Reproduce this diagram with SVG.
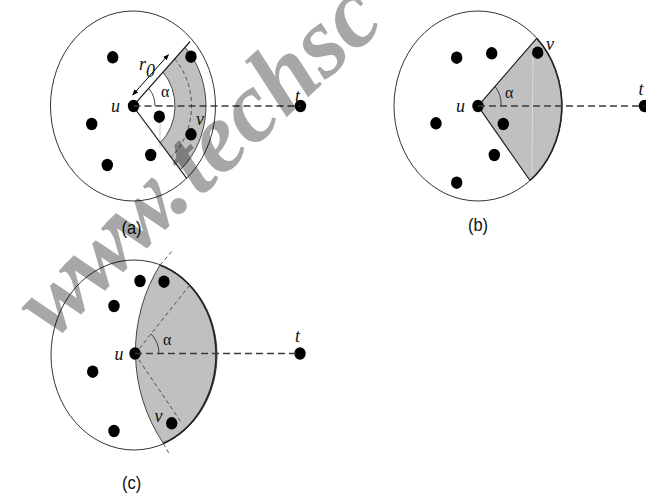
<svg xmlns="http://www.w3.org/2000/svg" width="646" height="500" viewBox="0 0 646 500">
<defs>
<style>
.bg{fill:#ffffff}
.ring{fill:none;stroke:#333;stroke-width:1}
.shade{fill:#c0c0c0;stroke:none}
.edge{fill:none;stroke:#222;stroke-width:1.2}
.rim{fill:none;stroke:#222;stroke-width:1.6}
.thin{fill:none;stroke:#333;stroke-width:0.9}
.dash{fill:none;stroke:#3a3a3a;stroke-width:1.6;stroke-dasharray:7 4}
.fdash{fill:none;stroke:#444;stroke-width:0.9;stroke-dasharray:4 3}
.dot{fill:#000}
.lbl{font-family:"Liberation Serif","Times New Roman",serif;font-style:italic;fill:#111;font-size:18px}
.greek{font-family:"Liberation Serif","Times New Roman",serif;fill:#111;font-size:16px}
.cap{font-family:"Liberation Sans",Arial,sans-serif;fill:#111;font-size:16.5px;text-anchor:middle}
.wm{font-family:"Liberation Serif","Times New Roman",serif;font-weight:bold;font-style:italic;font-size:100px;fill:#000;opacity:0.34}
</style>
<marker id="ah" viewBox="0 0 10 10" refX="9" refY="5" markerWidth="6" markerHeight="6" orient="auto-start-reverse" markerUnits="userSpaceOnUse">
<path d="M0,1 L10,5 L0,9 Z" fill="#000"/>
</marker>
</defs>
<rect class="bg" x="0" y="0" width="646" height="500"/>

<!-- Panel (a) -->
<g id="panel-a">
<ellipse class="ring" cx="133" cy="106" rx="82.5" ry="95"/>
<path class="shade" d="M163,72.2 L185.1,47.2 A73,84 0 0 1 180.4,169.8 L160.3,142.7 A42,48.3 0 0 0 163,72.2 Z"/>
<path class="thin" d="M185.1,47.2 A73,84 0 0 1 180.4,169.8"/>
<path class="thin" d="M163,72.2 A42,48.3 0 0 1 160.3,142.7"/>
<path class="fdash" d="M174.7,58.9 A58.5,67.3 0 0 1 171,157.2"/>
<line x1="160" y1="120" x2="160" y2="148" stroke="#bbb" stroke-width="0.8"/>
<path class="edge" d="M190.1,41.5 L133,106 L186.9,178.6"/>
<path class="thin" d="M148.7,88.3 A22,25.3 0 0 1 155,106"/>
<line x1="132.7" y1="95" x2="168.5" y2="54.6" stroke="#000" stroke-width="1" marker-start="url(#ah)" marker-end="url(#ah)"/>
<text class="lbl" x="139" y="70" font-size="18">r</text>
<text class="lbl" x="146" y="76.5" font-size="13">0</text>
<text class="greek" x="161" y="96.5">α</text>
<g id="a-u"><ellipse class="dot" cx="133.5" cy="106" rx="5.7" ry="6.2"/><text class="lbl" x="111" y="111.5">u</text></g>
<g id="a-t"><ellipse class="dot" cx="300.5" cy="106" rx="5.7" ry="6.2"/><text class="lbl" x="295" y="101.5">t</text></g>
<g id="a-v"><ellipse class="dot" cx="191" cy="134.3" rx="5.7" ry="6.2"/><text class="lbl" x="196" y="125">v</text></g>
<g id="a-n1"><ellipse class="dot" cx="112.7" cy="57.3" rx="5.7" ry="6.2"/></g>
<g id="a-n2"><ellipse class="dot" cx="191" cy="56.7" rx="5.7" ry="6.2"/></g>
<g id="a-n3"><ellipse class="dot" cx="91.7" cy="124" rx="5.7" ry="6.2"/></g>
<g id="a-n4"><ellipse class="dot" cx="159.3" cy="116.7" rx="5.7" ry="6.2"/></g>
<g id="a-n5"><ellipse class="dot" cx="150.7" cy="155" rx="5.7" ry="6.2"/></g>
<g id="a-n6"><ellipse class="dot" cx="107.3" cy="165" rx="5.7" ry="6.2"/></g>
<text class="cap" transform="translate(131.5,234) scale(1,1.14)">(a)</text>
</g>

<!-- Panel (b) -->
<g id="panel-b">
<ellipse class="ring" cx="478" cy="106" rx="84" ry="95"/>
<path class="shade" d="M478,106 L536.7,38.3 A84,95 0 0 1 530,180.5 Z"/>
<line x1="533" y1="44" x2="532" y2="176" stroke="#fff" stroke-width="0.8" opacity="0.5"/>
<path class="rim" d="M536.7,38.3 A84,95 0 0 1 530,180.5"/>
<path class="edge" d="M536.7,38.3 L478,106 L530,180.5"/>
<path class="thin" d="M495,86.5 A23,26 0 0 1 501,106"/>
<text class="greek" x="505" y="97.5">α</text>
<g id="b-u"><ellipse class="dot" cx="478" cy="106" rx="5.7" ry="6.2"/><text class="lbl" x="456" y="111.5">u</text></g>
<g id="b-t"><ellipse class="dot" cx="644.5" cy="106" rx="5.7" ry="6.2"/><text class="lbl" x="638.5" y="95">t</text></g>
<g id="b-v"><ellipse class="dot" cx="537.7" cy="52.7" rx="5.7" ry="6.2"/><text class="lbl" x="546" y="50">v</text></g>
<g id="b-n1"><ellipse class="dot" cx="456.7" cy="57.7" rx="5.7" ry="6.2"/></g>
<g id="b-n2"><ellipse class="dot" cx="491.7" cy="53.3" rx="5.7" ry="6.2"/></g>
<g id="b-n3"><ellipse class="dot" cx="436" cy="123.3" rx="5.7" ry="6.2"/></g>
<g id="b-n4"><ellipse class="dot" cx="503.3" cy="124" rx="5.7" ry="6.2"/></g>
<g id="b-n5"><ellipse class="dot" cx="494.3" cy="155" rx="5.7" ry="6.2"/></g>
<g id="b-n6"><ellipse class="dot" cx="456.7" cy="182.7" rx="5.7" ry="6.2"/></g>
<text class="cap" transform="translate(478,231) scale(1,1.14)">(b)</text>
</g>

<!-- Panel (c) -->
<g id="panel-c">
<ellipse class="ring" cx="134" cy="355" rx="83" ry="95"/>
<path class="shade" d="M160,265 A165,165 0 0 0 163.3,443.3 A83,95 0 0 0 160,265 Z"/>
<path class="thin" d="M160,265 A165,165 0 0 0 163.3,443.3"/>
<path class="rim" d="M163.3,443.3 A83,95 0 0 0 160,265"/>
<path class="fdash" d="M135,354 L190,285"/>
<path class="fdash" d="M135,354 L182,423.5"/>
<path class="fdash" d="M160,265 L171.7,251.5"/>
<path class="fdash" d="M163.3,443.3 L169.5,454.5"/>
<path class="thin" d="M150.9,333.8 A24,27 0 0 1 159,354"/>
<text class="greek" x="163" y="345">α</text>
<g id="c-u"><ellipse class="dot" cx="135" cy="353.5" rx="5.7" ry="6.2"/><text class="lbl" x="114.5" y="359.5">u</text></g>
<g id="c-t"><ellipse class="dot" cx="300" cy="353.5" rx="5.7" ry="6.2"/><text class="lbl" x="295" y="341.5">t</text></g>
<g id="c-v"><ellipse class="dot" cx="171.7" cy="423.3" rx="5.7" ry="6.2"/><text class="lbl" x="154.5" y="421.5">v</text></g>
<g id="c-n1"><ellipse class="dot" cx="140" cy="281" rx="5.7" ry="6.2"/></g>
<g id="c-n2"><ellipse class="dot" cx="164" cy="281.7" rx="5.7" ry="6.2"/></g>
<g id="c-n3"><ellipse class="dot" cx="114" cy="306" rx="5.7" ry="6.2"/></g>
<g id="c-n4"><ellipse class="dot" cx="92.7" cy="371.7" rx="5.7" ry="6.2"/></g>
<g id="c-n5"><ellipse class="dot" cx="114" cy="431" rx="5.7" ry="6.2"/></g>
<text class="cap" transform="translate(131.7,489) scale(1,1.14)">(c)</text>
</g>

<!-- Connectors -->
<g id="connectors">
<line class="dash" x1="133.5" y1="106" x2="300.5" y2="106"/>
<line class="dash" x1="478" y1="106" x2="644.5" y2="106"/>
<line class="dash" x1="135" y1="353.5" x2="300" y2="353.5"/>
</g>

<!-- Watermark -->
<g id="watermark">
<text class="wm" transform="translate(183.3,202.3) rotate(-45)" x="-190" y="6" letter-spacing="-7">www.</text>
<text class="wm" transform="translate(200,198) rotate(-43)" font-size="96">techsc</text>
</g>
</svg>
